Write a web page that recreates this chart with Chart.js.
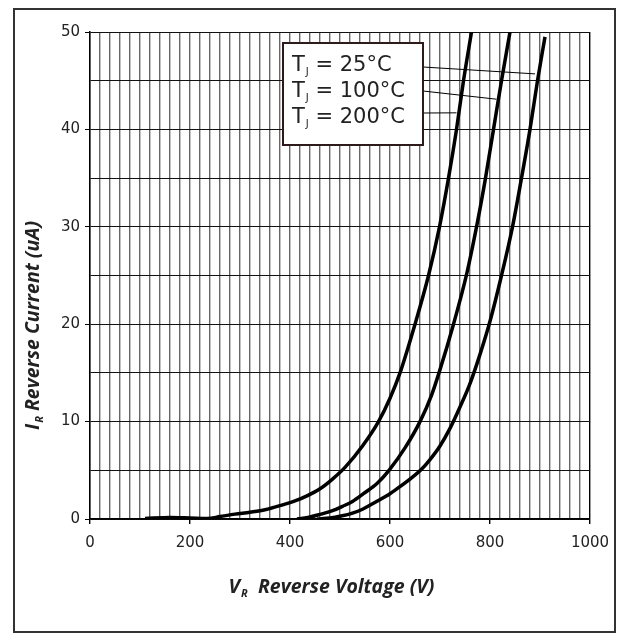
<!DOCTYPE html>
<html>
<head>
<meta charset="utf-8">
<script src="https://cdn.jsdelivr.net/npm/chart.js@4/dist/chart.umd.min.js"></script>
<style>
  body { margin: 0; background: #fff; }
  canvas { display: block; }
</style>
</head>
<body>
<canvas id="myChart" width="628" height="640"></canvas>
<script>
// reverse voltage (V) and reverse current (uA)
var volts200 = [110, 160, 200, 235, 260, 290, 320, 350, 385, 410, 435, 460, 485, 510, 545, 577, 600, 620, 650, 677, 699, 717, 733, 747, 763];
var amps200  = [0.05, 0.15, 0.1, 0.05, 0.25, 0.5, 0.7, 0.95, 1.45, 1.85, 2.4, 3.1, 4.1, 5.3, 7.5, 10, 12.4, 15, 20, 25, 30, 35, 40, 45, 50];

var volts100 = [414, 440, 462, 485, 505, 525, 547, 575, 598, 630, 660, 683, 698, 727, 754, 775, 791, 807, 823, 840];
var amps100  = [0, 0.2, 0.5, 0.85, 1.3, 1.8, 2.6, 3.7, 5.0, 7.3, 10, 12.7, 15, 20, 25.3, 30.5, 35, 40, 45, 50];

var volts25 = [454, 480, 502, 525, 545, 573, 600, 622, 645, 663, 680, 700, 720, 740, 760, 780, 800, 823, 845, 863, 880, 895, 910];
var amps25  = [0, 0.1, 0.3, 0.6, 1.0, 1.8, 2.6, 3.4, 4.3, 5.1, 6.1, 7.5, 9.3, 11.5, 13.9, 16.9, 20.3, 25, 30, 35, 40, 45, 49.5];

var legendTemps = ["25", "100", "200"];
// where each legend leader line touches its curve (V, uA)
var leaderVolts = [890, 813, 733];
var leaderAmps  = [45.7, 43.1, 41.7];

var xLabelEvery = 200;
var yLabelEvery = 10;

function toPoints(xs, ys) {
	var pts = [];
	for (var i = 0; i < xs.length; i++) pts.push({x: xs[i], y: ys[i]});
	return pts;
}

function curve(xs, ys) {
	return {
		data: toPoints(xs, ys),
		borderColor: "#000",
		borderWidth: 3.5,
		pointRadius: 0,
		fill: false,
		cubicInterpolationMode: "monotone"
	};
}

// text with a subscript, parts: [main, sub, rest]
function subText(ctx, parts, x, y, font, subFont, subDrop) {
	ctx.font = font;
	var w1 = ctx.measureText(parts[0]).width;
	var w3 = ctx.measureText(parts[2]).width;
	ctx.font = subFont;
	var w2 = ctx.measureText(parts[1]).width;
	var start = x;
	if (ctx.textAlign === "center") start = x - (w1 + w2 + w3) / 2;
	ctx.textAlign = "left";
	ctx.font = font;
	ctx.fillText(parts[0], start, y);
	ctx.font = subFont;
	ctx.fillText(parts[1], start + w1 + 1, y + subDrop);
	ctx.font = font;
	ctx.fillText(parts[2], start + w1 + w2 + 1, y);
}

var extras = {
	id: "extras",
	beforeDraw: function(chart) {
		var ctx = chart.ctx;
		ctx.save();
		ctx.fillStyle = "#fff";
		ctx.fillRect(0, 0, chart.width, chart.height);
		ctx.strokeStyle = "#333";
		ctx.lineWidth = 2;
		ctx.strokeRect(14, 9, 601, 623);
		ctx.restore();
	},
	afterDraw: function(chart) {
		var ctx = chart.ctx;
		var xs = chart.scales.x, ys = chart.scales.y;
		ctx.save();

		// axis titles
		var titleFont = "italic bold 19.5px 'Open Sans'";
		var subFont = "italic bold 11px 'Open Sans'";
		ctx.fillStyle = "#222";
		ctx.textBaseline = "middle";
		ctx.textAlign = "center";
		subText(ctx, ["V", "R", "  Reverse Voltage (V)"], 331, 587, titleFont, subFont, 7);
		ctx.translate(33, 326);
		ctx.rotate(-Math.PI / 2);
		ctx.textAlign = "center";
		subText(ctx, ["I", "R", " Reverse Current (uA)"], 0, 0, titleFont, subFont, 7);
		ctx.setTransform(1, 0, 0, 1, 0, 0);

		// legend box with leader lines
		var bx = 283, by = 43, bw = 140, bh = 102;
		var rows = [66, 92, 118];
		var leadFrom = [67, 91, 113];
		ctx.strokeStyle = "#000";
		ctx.lineWidth = 1;
		for (var i = 0; i < legendTemps.length; i++) {
			ctx.beginPath();
			ctx.moveTo(bx + bw, leadFrom[i]);
			ctx.lineTo(xs.getPixelForValue(leaderVolts[i]), ys.getPixelForValue(leaderAmps[i]));
			ctx.stroke();
		}
		ctx.fillStyle = "#fff";
		ctx.fillRect(bx, by, bw, bh);
		ctx.strokeStyle = "#2e1a1a";
		ctx.lineWidth = 2;
		ctx.strokeRect(bx, by, bw, bh);
		ctx.fillStyle = "#222";
		ctx.textBaseline = "middle";
		for (var j = 0; j < legendTemps.length; j++) {
			ctx.textAlign = "left";
			subText(ctx, ["T", "J", " = " + legendTemps[j] + "°C"], 292, rows[j],
				"21px 'DejaVu Sans'", "10px 'DejaVu Sans'", 6);
		}
		ctx.restore();
	}
};

var ctx = document.getElementById("myChart").getContext("2d");
var myChart = new Chart(ctx, {
	type: "line",
	data: {
		datasets: [curve(volts25, amps25), curve(volts100, amps100), curve(volts200, amps200)]
	},
	options: {
		responsive: false,
		animation: false,
		layout: { padding: { top: 32, right: 38, left: 0, bottom: 0 } },
		plugins: { legend: { display: false }, tooltip: { enabled: false } },
		scales: {
			x: {
				type: "linear",
				min: 0, max: 1000,
				afterFit: function(s) { s.height = 121; },
				border: { color: "#000", width: 1.5 },
				grid: {
					color: function(c) { return c.tick && c.tick.value === 1000 ? "#000" : "#666"; },
					lineWidth: 1.4,
					tickLength: 5,
					tickColor: function(c) { return c.tick && c.tick.value % xLabelEvery === 0 ? "#000" : "rgba(0,0,0,0)"; }
				},
				ticks: {
					stepSize: 20,
					autoSkip: false,
					maxRotation: 0,
					padding: 10,
					color: "#222",
					font: { family: "'DejaVu Sans'", size: 15 },
					callback: function(v) { return v % xLabelEvery === 0 ? v : ""; }
				}
			},
			y: {
				min: 0, max: 50,
				afterFit: function(s) { s.width = 90; },
				border: { color: "#000", width: 1.5 },
				grid: {
					color: "#111",
					lineWidth: 1,
					tickLength: 5,
					tickColor: function(c) { return c.tick && c.tick.value % yLabelEvery === 0 ? "#000" : "rgba(0,0,0,0)"; }
				},
				ticks: {
					stepSize: 5,
					autoSkip: false,
					padding: 5,
					color: "#222",
					font: { family: "'DejaVu Sans'", size: 15 },
					callback: function(v) { return v % yLabelEvery === 0 ? v : ""; }
				}
			}
		}
	},
	plugins: [extras]
});
</script>
</body>
</html>
